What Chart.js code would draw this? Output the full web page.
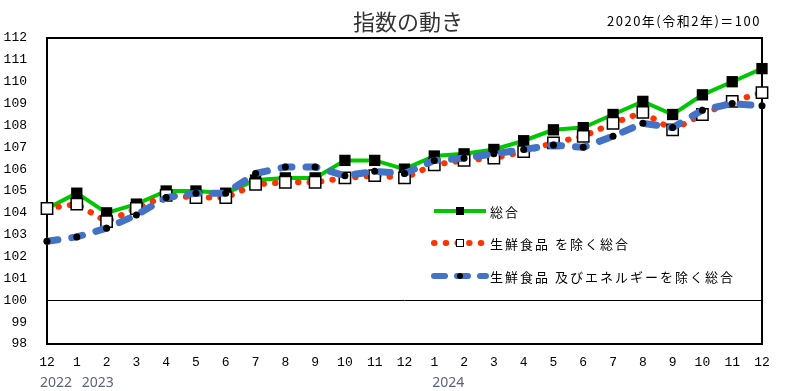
<!DOCTYPE html>
<html lang="ja">
<head>
<meta charset="utf-8">
<title>指数の動き</title>
<script src="https://cdn.jsdelivr.net/npm/chart.js@4.4.1/dist/chart.umd.min.js"></script>
<style>
  html, body { margin: 0; padding: 0; background: #fff; }
  canvas { display: block; }
</style>
</head>
<body>
<canvas id="chart" width="788" height="391"></canvas>
<script>
// months from 2022/12 to 2024/12
const months = ["12", "1", "2", "3", "4", "5", "6", "7", "8", "9", "10", "11", "12",
  "1", "2", "3", "4", "5", "6", "7", "8", "9", "10", "11", "12"];
const years = ["2022", "2023", "2024"];
const yearIndex = [0, 1, 13];

// 2020 = 100
const total = [104.2, 104.9, 104.0, 104.4, 105.0, 105.0, 104.9, 105.5, 105.6, 105.6, 106.4, 106.4, 106.0,
  106.6, 106.7, 106.9, 107.3, 107.8, 107.9, 108.5, 109.1, 108.5, 109.4, 110.0, 110.6];
const exFresh = [104.2, 104.4, 103.6, 104.2, 104.8, 104.7, 104.7, 105.3, 105.4, 105.4, 105.6, 105.7, 105.6,
  106.2, 106.4, 106.5, 106.8, 107.2, 107.5, 108.1, 108.6, 107.8, 108.5, 109.1, 109.5];
const exFreshEnergy = [102.7, 102.9, 103.3, 103.9, 104.7, 104.9, 104.9, 105.8, 106.1, 106.1, 105.7, 105.9, 105.8,
  106.4, 106.5, 106.7, 106.9, 107.1, 107.0, 107.5, 108.1, 107.9, 108.7, 109.0, 108.9];

const yMin = 98;
const yMax = 112;

const jpFont = '"Noto Sans CJK JP", "Noto Sans", sans-serif';
const numFont = '"Liberation Mono", "DejaVu Sans Mono", monospace';

const green = "#00c800";
const red = "#ff3300";
const blue = "#4472c4";

// title, frame, legend and year labels
const decorations = {
  id: "decorations",
  beforeDatasetsDraw(chart) {
    const { ctx, chartArea: a } = chart;
    ctx.save();
    ctx.strokeStyle = "#000";
    ctx.lineWidth = 2;
    ctx.strokeRect(a.left, a.top, a.right - a.left, a.bottom - a.top);
    ctx.restore();
  },
  afterDraw(chart) {
    const { ctx } = chart;
    const xScale = chart.scales.x;

    ctx.save();
    ctx.fillStyle = "#333";
    ctx.font = "22px " + jpFont;
    ctx.textAlign = "center";
    ctx.textBaseline = "middle";
    ctx.fillText("指数の動き", 408, 22);

    ctx.fillStyle = "#000";
    ctx.font = "13px " + jpFont;
    ctx.letterSpacing = "1.5px";
    ctx.textAlign = "right";
    ctx.fillText("2020年(令和2年)＝100", 761, 21);

    // years under the month ticks
    ctx.letterSpacing = "0px";
    ctx.font = "14px \"Noto Sans\", sans-serif";
    ctx.fillStyle = "#5b6478";
    ctx.textAlign = "center";
    const shifts = [9, 21, 14];
    years.forEach((y, i) => {
      ctx.fillText(y, xScale.getPixelForValue(yearIndex[i]) + shifts[i], 383);
    });

    // legend
    const rows = [211, 243, 276];
    const x0 = 434, x1 = 486, mid = 460;
    chart.data.datasets.forEach((ds, i) => {
      const y = rows[i];
      ctx.save();
      ctx.strokeStyle = ds.borderColor;
      ctx.lineWidth = ds.legendWidth;
      ctx.lineCap = ds.borderCapStyle || "butt";
      ctx.setLineDash(ds.legendDash || []);
      ctx.beginPath();
      ctx.moveTo(x0, y);
      ctx.lineTo(x1, y);
      ctx.stroke();
      ctx.restore();

      ctx.save();
      ctx.fillStyle = ds.pointBackgroundColor;
      ctx.strokeStyle = "#000";
      ctx.lineWidth = 1;
      if (ds.pointStyle === "rect") {
        ctx.fillRect(mid - 4, y - 4, 8, 8);
        ctx.strokeRect(mid - 3.5, y - 3.5, 7, 7);
      } else {
        ctx.beginPath();
        ctx.arc(mid, y, 3, 0, Math.PI * 2);
        ctx.fill();
      }
      ctx.restore();

      ctx.fillStyle = "#000";
      ctx.font = "13px " + jpFont;
      ctx.letterSpacing = "2px";
      ctx.textAlign = "left";
      ctx.textBaseline = "middle";
      ctx.fillText(ds.label, 490, y + 1);
    });
    ctx.restore();
  }
};

new Chart(document.getElementById("chart"), {
  type: "line",
  data: {
    labels: months,
    datasets: [
      {
        label: "総合",
        data: total,
        borderColor: green,
        borderWidth: 4,
        legendWidth: 4,
        pointStyle: "rect",
        pointRadius: 8,
        pointBackgroundColor: "#000",
        pointBorderColor: "#000",
        pointBorderWidth: 0,
        tension: 0,
        clip: false,
        order: 3
      },
      {
        label: "生鮮食品 を除く総合",
        data: exFresh,
        borderColor: red,
        borderWidth: 6,
        legendWidth: 6,
        borderCapStyle: "round",
        borderDash: [0.5, 11],
        legendDash: [0.5, 11.2],
        pointStyle: "rect",
        pointRadius: 8,
        pointBackgroundColor: "#fff",
        pointBorderColor: "#000",
        pointBorderWidth: 1.5,
        tension: 0,
        clip: false,
        order: 2
      },
      {
        label: "生鮮食品 及びエネルギーを除く総合",
        data: exFreshEnergy,
        borderColor: blue,
        borderWidth: 7,
        legendWidth: 6,
        borderCapStyle: "round",
        borderDash: [11, 14],
        legendDash: [11, 12],
        pointStyle: "circle",
        pointRadius: 3.5,
        pointBackgroundColor: "#000",
        pointBorderColor: "#000",
        pointBorderWidth: 0,
        tension: 0,
        clip: false,
        order: 1
      }
    ]
  },
  options: {
    responsive: false,
    animation: false,
    devicePixelRatio: 1,
    layout: { padding: { top: 38, right: 26, left: 0, bottom: 0 } },
    plugins: {
      legend: { display: false },
      tooltip: { enabled: false },
      title: { display: false }
    },
    scales: {
      x: {
        type: "category",
        offset: false,
        grid: { display: false, drawTicks: false },
        border: { display: false },
        ticks: {
          autoSkip: false,
          maxRotation: 0,
          padding: 11,
          color: "#000",
          font: { family: numFont, size: 13 }
        },
        afterFit: (s) => { s.height = 47; }
      },
      y: {
        min: yMin,
        max: yMax,
        ticks: {
          stepSize: 1,
          padding: 20,
          color: "#000",
          font: { family: numFont, size: 13 }
        },
        grid: {
          drawTicks: false,
          lineWidth: 1,
          color: (c) => (c.tick && c.tick.value === 100 ? "#000" : "rgba(0,0,0,0)")
        },
        border: { display: false },
        afterFit: (s) => { s.width = 47; }
      }
    }
  },
  plugins: [decorations]
});
</script>
</body>
</html>
